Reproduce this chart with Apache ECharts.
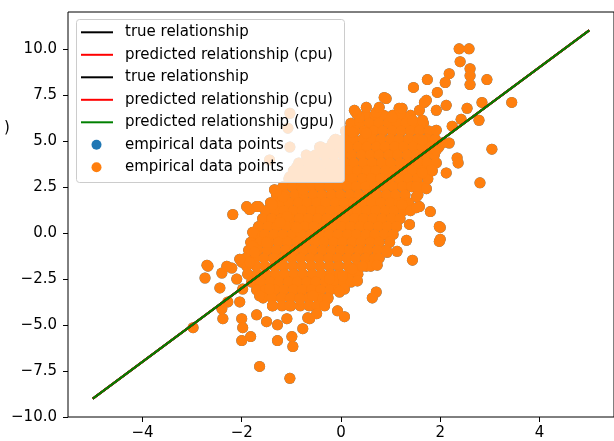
<!DOCTYPE html>
<html>
<head>
<meta charset="utf-8">
<script src="https://cdn.jsdelivr.net/npm/echarts@6/dist/echarts.min.js"></script>
<style>
html,body{margin:0;padding:0;background:#fff;overflow:hidden;}
#chart{width:620px;height:441px;}
</style>
</head>
<body>
<div id="chart"></div>
<script>
// ---- data ----
const xTicks = [-4, -2, 0, 2, 4];
const yTicks = [-10, -7.5, -5, -2.5, 0, 2.5, 5, 7.5, 10];
const lineX = [-5, 5];
const trueY = [-9, 11];
const cpuY = [-9, 11];
const gpuY = [-9, 11];
const legendLabels = ['true relationship', 'predicted relationship (cpu)', 'true relationship',
  'predicted relationship (cpu)', 'predicted relationship (gpu)', 'empirical data points', 'empirical data points'];
const yAxisLabelTail = ')';

// dense core of the point cloud, read row by row
const coreRowY = [6.39, 5.96, 5.53, 5.09, 4.66, 4.23, 3.80, 3.37, 2.94, 2.51, 2.07, 1.64, 1.21, 0.78, 0.35,
  -0.08, -0.51, -0.94, -1.37, -1.81, -2.24, -2.67, -3.10, -3.53, -3.96];
const coreRowX = [
  [0.50, 0.68, 0.86, 1.04, 1.22, 1.40],
  [0.20, 0.38, 0.57, 0.76, 0.95, 1.13, 1.31, 1.49, 1.66],
  [0.09, 0.28, 0.47, 0.66, 0.84, 1.03, 1.21, 1.40, 1.58, 1.77],
  [-0.11, 0.07, 0.25, 0.44, 0.62, 0.80, 0.99, 1.17, 1.36, 1.54, 1.72, 1.90],
  [-0.40, -0.22, -0.03, 0.15, 0.34, 0.52, 0.71, 0.89, 1.08, 1.26, 1.45, 1.63, 1.81, 1.97],
  [-0.70, -0.52, -0.33, -0.15, 0.04, 0.22, 0.41, 0.59, 0.77, 0.96, 1.14, 1.33, 1.51, 1.70, 1.88],
  [-0.85, -0.66, -0.48, -0.29, -0.11, 0.08, 0.26, 0.45, 0.63, 0.82, 1.00, 1.19, 1.37, 1.56, 1.74, 1.92],
  [-0.96, -0.78, -0.59, -0.41, -0.22, -0.04, 0.15, 0.33, 0.52, 0.70, 0.89, 1.07, 1.26, 1.44, 1.63, 1.84],
  [-1.05, -0.87, -0.68, -0.50, -0.31, -0.13, 0.06, 0.24, 0.43, 0.61, 0.80, 0.98, 1.17, 1.35, 1.54, 1.75],
  [-1.17, -0.98, -0.80, -0.61, -0.43, -0.24, -0.06, 0.13, 0.31, 0.50, 0.68, 0.87, 1.05, 1.24, 1.42, 1.65],
  [-1.30, -1.12, -0.93, -0.75, -0.56, -0.38, -0.19, -0.01, 0.18, 0.36, 0.55, 0.73, 0.92, 1.10, 1.29, 1.55],
  [-1.42, -1.23, -1.05, -0.86, -0.68, -0.49, -0.31, -0.12, 0.06, 0.25, 0.43, 0.62, 0.80, 0.99, 1.17, 1.36],
  [-1.52, -1.33, -1.15, -0.96, -0.78, -0.59, -0.41, -0.22, -0.04, 0.15, 0.33, 0.52, 0.70, 0.89, 1.07, 1.26, 1.40],
  [-1.58, -1.40, -1.21, -1.03, -0.84, -0.66, -0.47, -0.29, -0.10, 0.08, 0.27, 0.45, 0.64, 0.82, 1.01, 1.19],
  [-1.66, -1.47, -1.29, -1.10, -0.92, -0.73, -0.55, -0.36, -0.18, 0.01, 0.19, 0.38, 0.56, 0.75, 0.93, 1.12],
  [-1.72, -1.54, -1.35, -1.17, -0.98, -0.80, -0.61, -0.43, -0.24, -0.06, 0.13, 0.31, 0.50, 0.68, 0.87, 1.05],
  [-1.82, -1.63, -1.45, -1.26, -1.08, -0.89, -0.71, -0.52, -0.34, -0.15, 0.03, 0.22, 0.40, 0.59, 0.77, 0.98],
  [-1.86, -1.68, -1.49, -1.31, -1.12, -0.94, -0.75, -0.57, -0.38, -0.20, -0.01, 0.17, 0.36, 0.54, 0.73, 0.91],
  [-1.92, -1.73, -1.55, -1.36, -1.18, -0.99, -0.81, -0.62, -0.44, -0.25, -0.07, 0.12, 0.30, 0.49, 0.67, 0.77],
  [-1.90, -1.71, -1.53, -1.34, -1.16, -0.97, -0.79, -0.60, -0.42, -0.23, -0.05, 0.14, 0.32, 0.51, 0.60],
  [-1.88, -1.69, -1.51, -1.32, -1.14, -0.95, -0.77, -0.58, -0.40, -0.21, -0.03, 0.16, 0.34],
  [-1.80, -1.62, -1.43, -1.25, -1.06, -0.88, -0.69, -0.51, -0.32, -0.14, 0.05, 0.20],
  [-1.70, -1.52, -1.33, -1.15, -0.96, -0.78, -0.59, -0.41, -0.22, -0.05],
  [-1.57, -1.39, -1.20, -1.02, -0.83, -0.65, -0.46, -0.26],
  [-1.38, -1.19, -1.01, -0.82, -0.64, -0.48]
];
// individually readable outer points [x, y]
const outerPoints = [
  [-1.64,-7.25],[-1.03,-7.90],[-2.70,-1.75],[-2.74,-2.45],[-2.40,-2.18],[-2.44,-2.99],[-2.20,-1.91],[-2.00,-1.59],
  [-1.84,-1.59],[-2.10,-2.51],[-2.28,-3.75],[-2.38,-4.66],[-2.40,-4.12],[-2.00,-4.66],[-1.98,-5.15],[-2.00,-5.85],
  [-1.82,-5.63],[-1.70,-4.45],[-1.50,-4.82],[-1.28,-4.99],[-1.28,-5.85],[-0.99,-5.63],[-0.97,-6.17],[-0.77,-5.20],
  [-0.67,-4.61],[-0.49,-4.39],[-2.98,-5.15],[-1.78,-0.73],[-1.98,-3.05],[-2.04,-3.75],[-1.64,-3.42],[-1.38,-3.96],
  [-1.44,-3.05],[-1.03,-3.96],[-0.83,-3.58],[-0.37,-3.58],[-1.09,-4.66],
  [0.33,-2.61],[0.73,-1.75],[1.44,-1.48],[1.32,-0.40],[1.98,-0.46],[0.71,-3.21],[0.63,-3.53],[0.07,-3.05],
  [-0.03,-3.21],[-0.27,-3.58],[-0.33,-3.96],[-0.07,-4.23],[0.07,-4.55],[-0.63,-4.66],[1.13,-1.00],[0.93,-1.05],
  [0.43,-1.81],[0.23,-1.97],[0.03,-2.34],[-0.23,-2.51],[-0.57,-3.42],
  [1.58,1.43],[1.80,1.16],[2.00,0.30],[2.00,-0.35],
  [2.38,10.00],[2.58,10.00],[2.40,9.30],[2.60,8.92],[2.60,8.54],[2.60,8.06],[2.18,8.65],[2.10,8.17],[1.74,8.33],
  [1.46,7.90],[1.94,7.63],[2.94,8.33],[2.84,7.09],[3.44,7.09],[2.54,6.77],[2.78,6.12],[3.04,4.55],[2.80,2.72],
  [2.42,6.17],[2.24,5.80],[2.12,6.93],[1.72,7.20],[0.91,7.30],[1.17,6.77],[1.58,6.66],[1.92,6.66],[2.18,4.88],
  [2.34,4.07],[2.36,3.80],[2.12,3.26],[1.72,2.40],[1.52,2.51],[1.52,1.97],[1.52,1.37],[1.98,0.35],[1.38,0.46],
  [1.82,3.42],[1.92,4.50],[1.64,5.04],[1.92,5.58],[1.64,6.12],
  [0.87,7.36],[0.71,6.55],[1.23,6.77],[1.68,7.09],[1.23,1.54],[1.64,3.26],[2.04,4.88],[1.44,6.12],
  [-1.07,5.69],[-0.39,4.61],[-0.17,4.88],[-0.67,3.96],[-1.03,3.05],[-1.44,3.96],[-0.89,3.58],[0.23,5.47],
  [0.37,6.28],[0.51,5.42],[-1.70,1.43],[-1.34,2.35],[-1.38,1.54],[-1.17,1.97],[-1.09,0.89],[-1.23,0.57],
  [-0.89,0.30],[-1.84,1.27],[-0.77,2.35],[-2.18,1.00],[-1.90,1.43],[-1.66,1.43],[-1.30,2.24],[-1.78,0.03],
  [-1.50,-0.51],[-2.68,-1.81],[-2.30,-1.81],[-2.04,-1.43],[-1.74,-1.05],[-1.03,6.50],[0.31,6.50],[0.51,6.82],
  [0.77,6.82],[1.03,6.28],[-1.03,4.66],[0.27,6.66],[-0.13,5.04],[-0.43,4.66]
];

// ---- build ----
const points = [];
coreRowY.forEach((y, i) => coreRowX[i].forEach(x => points.push([x, y])));
outerPoints.forEach(p => points.push(p));
const pairs = ys => lineX.map((x, i) => [x, ys[i]]);
const fmt = v => (v < 0 ? '\u2212' : '') + Math.abs(v);

const FONT = 'DejaVu Sans';
const chart = echarts.init(document.getElementById('chart'), null, {renderer: 'canvas'});

const legendColors = ['#000000', '#ff0000', '#000000', '#ff0000', '#008000', '#1f77b4', '#ff7f0e'];
const legendEls = [{
  type: 'rect', z: 100,
  shape: {x: 76.5, y: 19.5, width: 268, height: 163, r: 3},
  style: {fill: 'rgba(255,255,255,0.8)', stroke: '#cccccc', lineWidth: 1}
}];
legendLabels.forEach((t, i) => {
  const cy = 32.3 + i * 22.5;
  if (i < 5) {
    legendEls.push({type: 'line', z: 101, shape: {x1: 81, y1: cy, x2: 113, y2: cy},
      style: {stroke: legendColors[i], lineWidth: 2}});
  } else {
    legendEls.push({type: 'circle', z: 101, shape: {cx: 96.5, cy: cy, r: 5},
      style: {fill: legendColors[i]}});
  }
  legendEls.push({type: 'text', z: 101, x: 125, y: cy,
    style: {text: t, fill: '#000', font: '15px "' + FONT + '"', textVerticalAlign: 'middle', textAlign: 'left'}});
});
legendEls.push({type: 'text', z: 101, x: 4, y: 128,
  style: {text: yAxisLabelTail, fill: '#000', font: '15px "' + FONT + '"', textVerticalAlign: 'middle', textAlign: 'left'}});

const lineSeries = (name, ys, color) => ({
  type: 'line', name, data: pairs(ys), symbol: 'none', silent: true,
  lineStyle: {color, width: 2}, z: 5, animation: false
});

chart.setOption({
  animation: false,
  textStyle: {fontFamily: FONT},
  grid: {left: 68, top: 12, width: 546, height: 407, show: true, borderColor: '#000', borderWidth: 1, backgroundColor: 'transparent'},
  xAxis: {
    type: 'value', min: -5.5, max: 5.5,
    axisLine: {show: false, onZero: false}, splitLine: {show: false},
    axisTick: {show: true, length: 5, lineStyle: {color: '#000'}, customValues: xTicks},
    axisLabel: {color: '#000', fontSize: 15, fontFamily: FONT, margin: 9, customValues: xTicks, formatter: fmt}
  },
  yAxis: {
    type: 'value', min: -10, max: 12,
    axisLine: {show: false, onZero: false}, splitLine: {show: false},
    axisTick: {show: true, length: 5, lineStyle: {color: '#000'}, customValues: yTicks},
    axisLabel: {color: '#000', fontSize: 15, fontFamily: FONT, margin: 11, customValues: yTicks,
      formatter: v => (v < 0 ? '\u2212' : '') + Math.abs(v).toFixed(1)}
  },
  series: [
    {type: 'scatter', name: 'empirical data points', data: points, symbolSize: 11, silent: true,
      itemStyle: {color: '#1f77b4', opacity: 1}, z: 2},
    {type: 'scatter', name: 'empirical data points', data: points, symbolSize: 11, silent: true,
      itemStyle: {color: '#ff7f0e', opacity: 1}, z: 3},
    lineSeries('true relationship', trueY, '#000000'),
    lineSeries('predicted relationship (cpu)', cpuY, '#ff0000'),
    lineSeries('true relationship', trueY, '#000000'),
    lineSeries('predicted relationship (cpu)', cpuY, '#ff0000'),
    lineSeries('predicted relationship (gpu)', gpuY, '#008000')
  ],
  graphic: {elements: legendEls}
});
</script>
</body>
</html>
